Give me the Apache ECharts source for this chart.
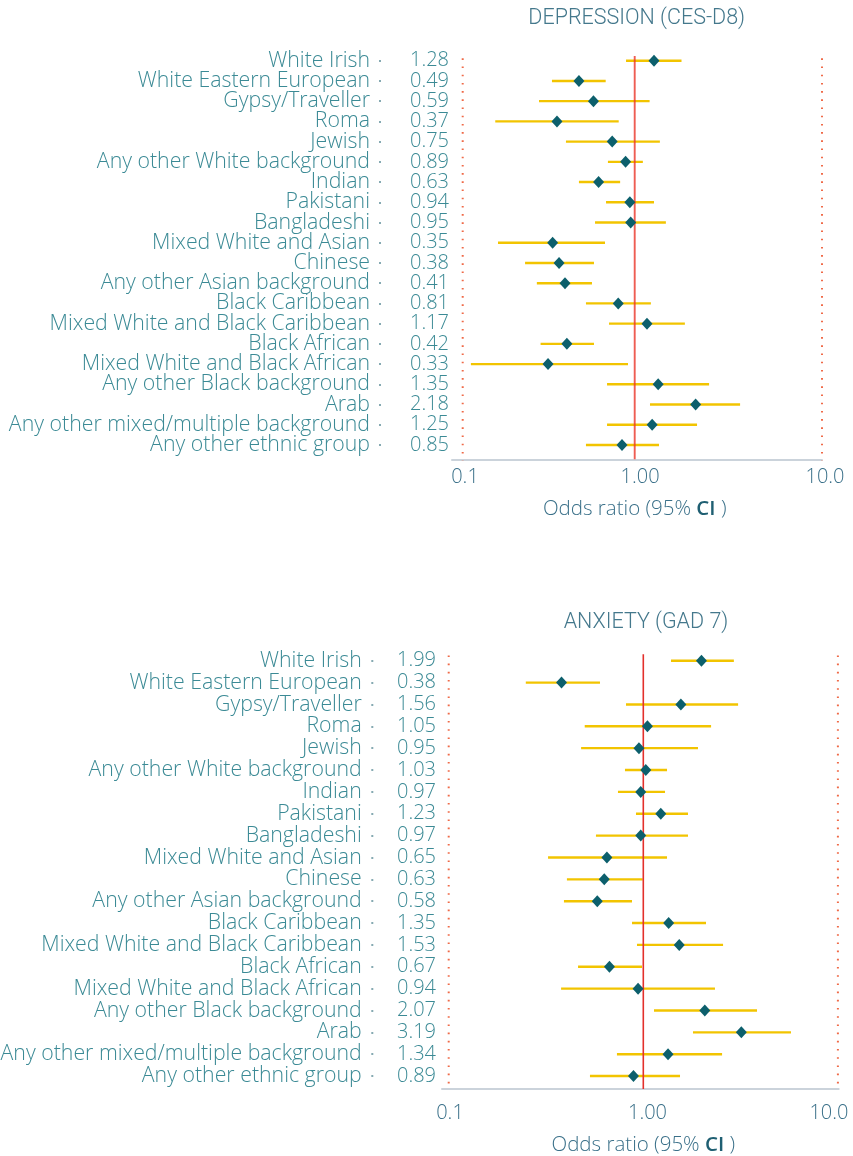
<!DOCTYPE html>
<html>
<head>
<meta charset="utf-8">
<script src="https://cdn.jsdelivr.net/npm/echarts@6/dist/echarts.min.js"></script>
<style>
  html, body { margin: 0; padding: 0; background: #ffffff; }
  #chart { width: 853px; height: 1156px; }
</style>
</head>
<body>
<div id="chart"></div>
<script>
// ---- data ----
const categories = [
  'White Irish', 'White Eastern European', 'Gypsy/Traveller', 'Roma', 'Jewish',
  'Any other White background', 'Indian', 'Pakistani', 'Bangladeshi', 'Mixed White and Asian',
  'Chinese', 'Any other Asian background', 'Black Caribbean', 'Mixed White and Black Caribbean',
  'Black African', 'Mixed White and Black African', 'Any other Black background', 'Arab',
  'Any other mixed/multiple background', 'Any other ethnic group'
];
const depLabels = ['1.28','0.49','0.59','0.37','0.75','0.89','0.63','0.94','0.95','0.35',
                   '0.38','0.41','0.81','1.17','0.42','0.33','1.35','2.18','1.25','0.85'];
const depOR   = [1.28, 0.49, 0.59, 0.37, 0.75, 0.89, 0.63, 0.94, 0.95, 0.35,
                 0.38, 0.41, 0.81, 1.17, 0.42, 0.33, 1.35, 2.18, 1.25, 0.85];
const depLow  = [0.895, 0.347, 0.294, 0.168, 0.415, 0.71, 0.49, 0.693, 0.602, 0.174,
                 0.246, 0.286, 0.536, 0.72, 0.30, 0.123, 0.702, 1.216, 0.702, 0.536];
const depHigh = [1.82, 0.69, 1.21, 0.815, 1.38, 1.11, 0.83, 1.28, 1.49, 0.684,
                 0.594, 0.579, 1.23, 1.90, 0.594, 0.918, 2.59, 3.85, 2.22, 1.365];

const anxLabels = ['1.99','0.38','1.56','1.05','0.95','1.03','0.97','1.23','0.97','0.65',
                   '0.63','0.58','1.35','1.53','0.67','0.94','2.07','3.19','1.34','0.89'];
const anxOR   = [1.99, 0.38, 1.56, 1.05, 0.95, 1.03, 0.97, 1.23, 0.97, 0.65,
                 0.63, 0.58, 1.35, 1.53, 0.67, 0.94, 2.07, 3.19, 1.34, 0.89];
const anxLow  = [1.388, 0.249, 0.815, 0.50, 0.479, 0.805, 0.741, 0.917, 0.571, 0.324,
                 0.405, 0.391, 0.875, 0.928, 0.462, 0.378, 1.135, 1.80, 0.732, 0.532];
const anxHigh = [2.92, 0.599, 3.07, 2.23, 1.91, 1.324, 1.293, 1.697, 1.697, 1.324,
                 0.993, 0.875, 2.10, 2.57, 0.985, 2.335, 3.84, 5.74, 2.54, 1.544];

const xTickLabels = ['0.1', '1.00', '10.0'];
const titles = ['DEPRESSION (CES-D8)', 'ANXIETY (GAD 7)'];
const refValue = 1;
const xMin = 0.1, xMax = 10;

// ---- styling ----
const FONT = "'Open Sans', 'Noto Sans', sans-serif";
const TEAL = '#3b8a95';
const AXISTXT = '#3a7089';
const TITLECOL = '#44788c';
const CI_COL = '#f2c400';
const MARK_COL = '#0c5f6c';
const DOT_COL = '#ef6a48';

const chart = echarts.init(document.getElementById('chart'));

const panels = [
  { // depression
    or: depOR, lo: depLow, hi: depHigh, lab: depLabels,
    data: { left: 454.7, width: 360, top: 50.6, height: 404.5 },
    deco: { left: 462.7, width: 359.3, top: 56, height: 403.3 },
    axisLine: { left: 452, width: 370 },
    red: { left: 454.7, width: 360 },
    redColor: 'rgba(234,52,40,0.8)', redWidth: 1.9,
    valMargin: 5.7, nameOffset: 73.7, nameMargin: 11,
    labelMargin: 8, nameGap: 39,
    tickShift: [2.3, -2.3, 3],
    title: { x: 636.7, y: 7.5 }
  },
  { // anxiety
    or: anxOR, lo: anxLow, hi: anxHigh, lab: anxLabels,
    data: { left: 448.7, width: 389.2, top: 649.8, height: 437.2 },
    deco: { left: 448.7, width: 389.2, top: 654.3, height: 434.7 },
    axisLine: { left: 442, width: 396.7 },
    red: { left: 448.7, width: 389.2 },
    redColor: '#e3302c', redWidth: 1.6,
    valMargin: 12.7, nameOffset: 75.4, nameMargin: 11.6,
    labelMargin: 14, nameGap: 46,
    tickShift: [1.3, 4.2, -9],
    title: { x: 646, y: 612 }
  }
];

const grid = [], xAxis = [], yAxis = [], series = [], title = [];
const mkGrid = (o) => Object.assign({ outerBoundsMode: 'none', containLabel: false }, o);

panels.forEach((p, k) => {
  const g0 = grid.length;
  grid.push(mkGrid({ left: p.data.left, top: p.data.top, width: p.data.width, height: p.data.height }));
  grid.push(mkGrid({ left: p.deco.left, top: p.deco.top, width: p.deco.width, height: p.deco.height }));
  grid.push(mkGrid({ left: p.axisLine.left, top: p.deco.top, width: p.axisLine.width, height: p.deco.height }));
  grid.push(mkGrid({ left: p.red.left, top: p.deco.top, width: p.red.width, height: p.deco.height }));

  const x0 = xAxis.length;
  xAxis.push({
    gridIndex: g0, type: 'log', logBase: 10, min: xMin, max: xMax,
    axisLine: { show: false }, axisTick: { show: false }, axisLabel: { show: false },
    splitLine: { show: false },
    name: 'Odds ratio (95% {b|CI} )', nameLocation: 'middle',
    nameGap: p.nameGap + (p.deco.top + p.deco.height - p.data.top - p.data.height),
    nameTextStyle: {
      fontFamily: FONT, fontSize: 20.5, fontWeight: 300, color: AXISTXT,
      rich: { b: { fontFamily: FONT, fontSize: 20.5, fontWeight: 600, color: '#1f5f72' } }
    }
  });
  // tick label rich styles: shift each label horizontally via asymmetric padding
  const rich = {};
  p.tickShift.forEach((s, i) => {
    rich['t' + i] = {
      fontFamily: FONT, fontSize: 20, fontWeight: 300, color: AXISTXT,
      padding: s >= 0 ? [0, 0, 0, 2 * s] : [0, -2 * s, 0, 0]
    };
  });
  xAxis.push({
    gridIndex: g0 + 1, type: 'log', logBase: 10, min: xMin, max: xMax,
    axisLine: { show: false }, axisTick: { show: false }, splitLine: { show: false },
    axisLabel: {
      show: true, margin: p.labelMargin, fontFamily: FONT, fontSize: 20, fontWeight: 300, color: AXISTXT,
      rich,
      formatter: (v, i) => xTickLabels[i] !== undefined ? '{t' + i + '|' + xTickLabels[i] + '}' : ''
    }
  });
  xAxis.push({
    gridIndex: g0 + 2, type: 'value', min: 0, max: 1,
    axisLine: { show: true, lineStyle: { color: '#cbd3db', width: 2 } },
    axisTick: { show: false }, axisLabel: { show: false }, splitLine: { show: false }
  });
  xAxis.push({
    gridIndex: g0 + 3, type: 'log', logBase: 10, min: xMin, max: xMax,
    axisLine: { show: false }, axisTick: { show: false }, axisLabel: { show: false }, splitLine: { show: false }
  });

  const y0 = yAxis.length;
  yAxis.push({
    gridIndex: g0, type: 'category', inverse: true, data: p.lab,
    axisLine: { show: false }, axisTick: { show: false }, splitLine: { show: false },
    axisLabel: { interval: 0, margin: p.valMargin, fontFamily: FONT, fontSize: 20, fontWeight: 300,
                 color: TEAL, padding: [0, 0, 3, 0] }
  });
  yAxis.push({
    gridIndex: g0, type: 'category', inverse: true, data: categories, position: 'left', offset: p.nameOffset,
    axisLine: { show: false },
    axisTick: { show: true, interval: 0, alignWithLabel: true, length: 2, lineStyle: { color: '#5f8f99', width: 1.5 } },
    splitLine: { show: false },
    axisLabel: { interval: 0, margin: p.nameMargin, fontFamily: FONT, fontSize: 21.3, fontWeight: 300,
                 color: TEAL, padding: [0, 0, 3, 0] }
  });
  yAxis.push({ gridIndex: g0 + 1, type: 'value', min: 0, max: 1, show: false });
  yAxis.push({ gridIndex: g0 + 2, type: 'value', min: 0, max: 1, show: false });
  yAxis.push({ gridIndex: g0 + 3, type: 'value', min: 0, max: 1, show: false });

  [xMin, xMax].forEach(v => {
    series.push({
      type: 'line', xAxisIndex: x0 + 1, yAxisIndex: y0 + 2, silent: true, symbol: 'none',
      data: [[v, -0.006], [v, 1]],
      lineStyle: { color: DOT_COL, width: 2, type: [1.6, 6.6] }, z: 1
    });
  });

  series.push({
    type: 'custom', xAxisIndex: x0, yAxisIndex: y0, silent: true, z: 2,
    data: p.or.map((_, i) => [p.lo[i], i, p.hi[i]]),
    encode: { x: [0, 2], y: 1 },
    renderItem: (params, api) => {
      const a = api.coord([api.value(0), api.value(1)]);
      const b = api.coord([api.value(2), api.value(1)]);
      return { type: 'line', shape: { x1: a[0], y1: a[1], x2: b[0], y2: b[1] },
               style: { stroke: CI_COL, lineWidth: 2.4 } };
    }
  });

  series.push({
    type: 'line', xAxisIndex: x0 + 3, yAxisIndex: y0 + 4, silent: true, symbol: 'none',
    data: [[refValue, 0], [refValue, 1]],
    lineStyle: { color: p.redColor, width: p.redWidth }, z: 3
  });

  series.push({
    type: 'scatter', xAxisIndex: x0, yAxisIndex: y0, symbol: 'diamond', symbolSize: [11, 12],
    data: p.or.map((v, i) => [v, i]),
    itemStyle: { color: MARK_COL, opacity: 1 }, z: 4
  });

  title.push({
    text: titles[k], left: p.title.x, top: p.title.y, textAlign: 'center', padding: 0,
    textStyle: { fontFamily: "Roboto, 'Noto Sans', sans-serif", fontSize: 21.5, fontWeight: 300, color: TITLECOL }
  });
});

chart.setOption({
  animation: false,
  backgroundColor: '#ffffff',
  title, grid, xAxis, yAxis, series
});
</script>
</body>
</html>
